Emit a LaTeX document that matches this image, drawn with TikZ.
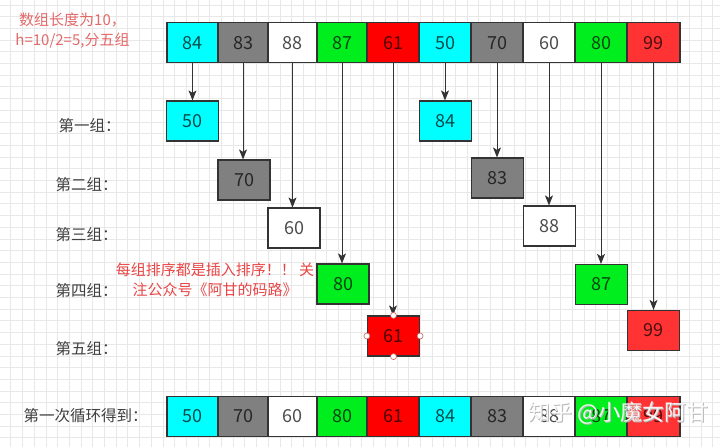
\documentclass[tikz,border=0pt]{standalone}
\usepackage{fontspec}
\setmainfont{Noto Sans CJK SC}
\usetikzlibrary{arrows.meta,positioning,calc}
\definecolor{cellcyan}{RGB}{0,255,255}
\definecolor{cellgray}{RGB}{128,128,128}
\definecolor{cellgreen}{RGB}{0,238,30}
\definecolor{cellred}{RGB}{255,0,0}
\definecolor{cellrose}{RGB}{255,51,51}
\definecolor{notered}{RGB}{232,70,70}
\definecolor{notepink}{RGB}{228,105,105}
\definecolor{handlered}{RGB}{205,95,95}
\definecolor{gridgray}{RGB}{232,232,232}

\tikzset{
  cell/.style={draw=black!80, line width=1.2pt, minimum height=40pt, inner sep=0pt,
    font=\fontsize{18}{20}\selectfont, text=black, text opacity=0.7},
  grp/.style={cell, minimum width=52pt},
  lbl/.style={font=\fontsize{15.5}{17}\selectfont, text=black!75, anchor=west},
  note/.style={font=\fontsize{15}{20}\selectfont, align=center},
  fleche/.style={draw=black!80, line width=0.9pt, -{Stealth[length=10pt,width=8pt,inset=2.5pt]}},
  poignee/.style={circle, draw=handlered, fill=white, line width=0.6pt, inner sep=0pt, minimum size=6pt},
  grille/.style={draw=gridgray, line width=0.5pt},
}

\begin{document}
\begin{tikzpicture}[x=1pt, y=-1pt]
  % Fond et grille
  \fill[white] (0,0) rectangle (720,447);
  \useasboundingbox (0,0) rectangle (720,447);
  \foreach \k in {0,...,61}
    \draw[grille] ({10.7+11.7*\k},0) -- ++(0,447);
  \foreach \k in {0,...,38}
    \draw[grille] (0,{4.8+11.7*\k}) -- ++(720,0);
  % Tableau initial
  \foreach \i/\x/\w/\v/\c in {0/192.5/51/84/cellcyan, 1/243/50/83/cellgray, 2/292.5/49/88/white,
      3/342/50/87/cellgreen, 4/393/52/61/cellred, 5/445/52/50/cellcyan, 6/497/52/70/cellgray,
      7/549/52/60/white, 8/601/52/80/cellgreen, 9/653.5/53/99/cellrose}
    \node[cell, fill=\c, minimum width=\w pt] (t\i) at (\x,42.7) {\v};
  % Groupes (h = 5)
  \foreach \i/\x/\y/\v/\c in {0/192.5/121/50/cellcyan, 1/244/180/70/cellgray, 2/294/228/60/white,
      3/343/284/80/cellgreen, 4/393.5/336/61/cellred, 5/445.5/121/84/cellcyan, 6/497.5/178/83/cellgray,
      7/549.5/226/88/white, 8/601.5/284.5/87/cellgreen, 9/653.5/330.5/99/cellrose}
    \node[grp, fill=\c] (g\i) at (\x,\y) {\v};
  \foreach \i in {0,...,9}
    \draw[fleche] (t\i.south) -- (t\i.south |- g\i.north);
  % Poignées de sélection
  \foreach \a in {north,south,west,east}
    \node[poignee] (h-\a) at (g4.\a) {};
  % Tableau après le premier passage
  \foreach \i/\x/\w/\v/\c in {0/192.5/51/50/cellcyan, 1/243/50/70/cellgray, 2/292.5/49/60/white,
      3/342/50/80/cellgreen, 4/393/52/61/cellred, 5/445/52/84/cellcyan, 6/497/52/83/cellgray,
      7/549/52/88/white, 8/601/52/87/cellgreen, 9/653.5/53/99/cellrose}
    \node[cell, fill=\c, minimum width=\w pt] (b\i) at (\x,416.5) {\v};
  % Libellés
  \node[lbl] (l1) at (55,126) {第一组：};
  \node[lbl] (l2) at (52,185) {第二组：};
  \node[lbl] (l3) at (52,235) {第三组：};
  \node[lbl] (l4) at (52,291) {第四组：};
  \node[lbl] (l5) at (52,349) {第五组：};
  \node[lbl] (lb) at (20,416) {第一次循环得到：};
  % Notes
  \node[note, text=notepink] (n1) at (72.5,30.5) {数组长度为10，\\h=10/2=5,分五组};
  \node[note, text=notered] (n2) at (215,280) {每组排序都是插入排序！！ 关\\注公众号《阿甘的码路》};
  % Filigrane
  \node[font=\fontsize{22}{24}\selectfont, text=gray!55] (wm0) at (619.3,414.3) {知乎 @小魔女阿甘};
  \node[font=\fontsize{22}{24}\selectfont, text=white, text opacity=0.9] (wm) at (618.5,413.5) {知乎 @小魔女阿甘};
\end{tikzpicture}
\end{document}
